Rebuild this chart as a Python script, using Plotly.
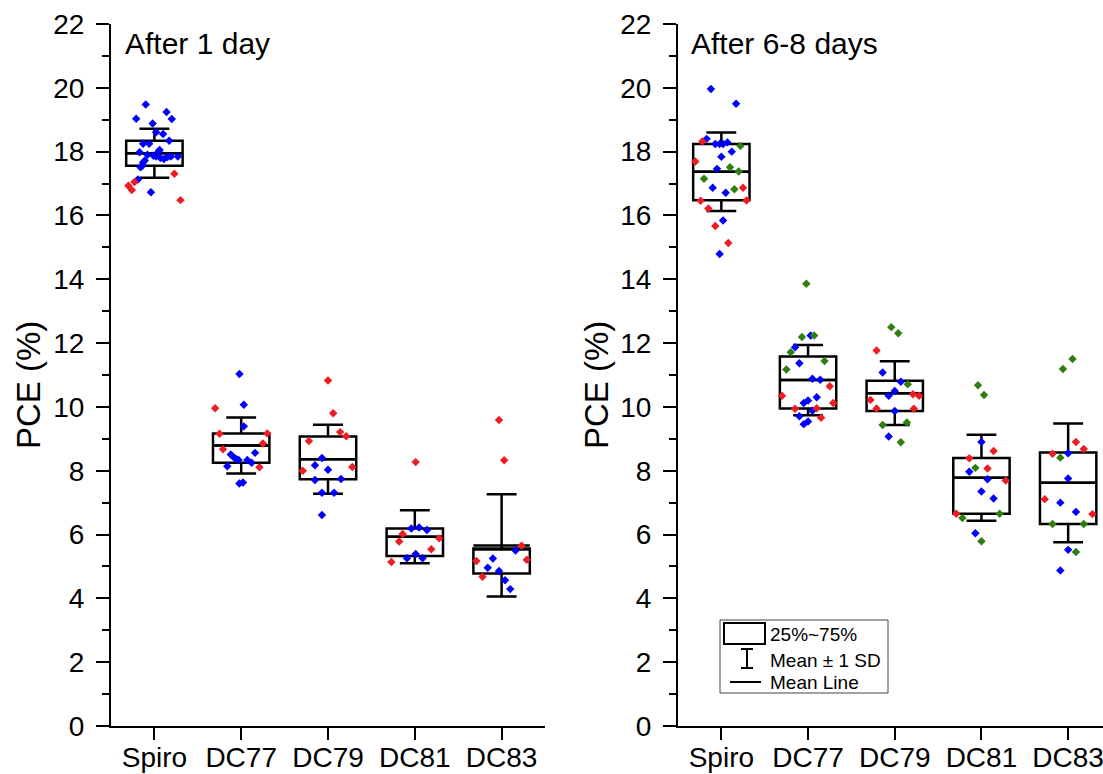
import plotly.graph_objects as go

W, H = 1103, 774

categories = ["Spiro", "DC77", "DC79", "DC81", "DC83"]
cat_pos = [1, 2, 3, 4, 5]

# ---------------- After 1 day ----------------
d1_blue_cat = ["Spiro"] * 27 + ["DC77"] * 13 + ["DC79"] * 8 + ["DC81"] * 6 + ["DC83"] * 6
d1_blue_pce = [19.48, 19.24, 19.03, 19.02, 18.88, 18.61, 18.55, 18.34, 18.25, 18.25, 18.05, 17.98, 17.90,
               17.85, 17.77, 17.85, 17.85, 17.72, 17.56, 17.13, 16.73, 18.01, 17.87, 17.80, 17.83, 17.66, 17.51,
               11.03, 10.07, 9.39, 8.56, 8.51, 8.41, 8.34, 8.34, 8.25, 8.14, 7.60, 7.63, 8.37,
               8.40, 8.17, 8.03, 7.71, 7.74, 7.31, 7.31, 6.61,
               6.19, 6.22, 6.14, 5.39, 5.26, 5.26,
               5.50, 5.25, 4.96, 4.86, 4.57, 4.29]
d1_blue_jitter = [-0.10, 0.14, -0.21, 0.20, -0.02, 0.02, 0.10, 0.17, -0.13, -0.06, 0.06, -0.17, -0.08,
                  0.02, 0.11, 0.19, 0.27, -0.11, -0.14, -0.19, -0.04, 0.05, -0.01, 0.07, 0.15, -0.13, -0.16,
                  -0.02, 0.03, 0.03, 0.16, -0.12, -0.08, -0.03, 0.07, 0.12, -0.16, -0.02, 0.02, -0.06,
                  -0.07, -0.15, 0.0, -0.15, 0.15, -0.07, 0.07, -0.07,
                  -0.04, 0.05, 0.14, 0.01, -0.09, 0.09,
                  0.16, -0.10, -0.16, -0.03, 0.04, 0.10]

d1_red_cat = ["Spiro"] * 5 + ["DC77"] * 6 + ["DC79"] * 7 + ["DC81"] * 6 + ["DC83"] * 6
d1_red_pce = [17.31, 17.05, 16.93, 16.80, 16.48,
              9.96, 9.16, 9.17, 8.85, 8.67, 8.11,
              10.83, 9.80, 9.21, 9.08, 8.93, 8.00, 8.12,
              8.27, 6.02, 5.78, 5.88, 5.54, 5.14,
              9.59, 8.33, 5.65, 5.21, 5.17, 4.68]
d1_red_jitter = [0.23, -0.23, -0.30, -0.26, 0.30,
                 -0.30, -0.25, 0.30, 0.25, -0.21, 0.21,
                 0.0, 0.06, 0.14, 0.21, -0.22, -0.29, 0.28,
                 0.01, -0.14, -0.18, 0.28, 0.19, -0.27,
                 -0.03, 0.03, 0.23, 0.29, -0.29, -0.22]

d1_q1 = [17.56, 8.25, 7.73, 5.33, 4.78]
d1_q3 = [18.34, 9.17, 9.07, 6.19, 5.56]
d1_mean = [17.95, 8.79, 8.36, 5.93, 5.66]
d1_sd = [0.77, 0.88, 1.08, 0.83, 1.60]

# ---------------- After 6-8 days ----------------
d6_blue_cat = ["Spiro"] * 14 + ["DC77"] * 12 + ["DC79"] * 6 + ["DC81"] * 6 + ["DC83"] * 6
d6_blue_pce = [19.96, 19.50, 18.40, 18.24, 18.24, 18.24, 18.29, 18.00, 17.84, 17.46, 16.87, 16.71, 15.84, 14.79,
               12.24, 11.87, 11.37, 10.88, 10.85, 10.30, 10.20, 10.12, 9.88, 9.71, 9.54, 9.46,
               11.08, 10.79, 10.50, 10.35, 9.87, 9.07,
               8.90, 7.97, 7.73, 7.35, 7.13, 6.04,
               8.55, 7.76, 7.00, 6.71, 5.52, 4.87]
d6_blue_jitter = [-0.12, 0.17, -0.17, -0.07, -0.02, 0.02, 0.07, 0.12, 0.0, -0.05, -0.10, 0.05, 0.02, -0.02,
                  0.03, -0.15, -0.10, 0.05, 0.14, 0.10, 0.0, -0.05, 0.05, -0.10, 0.0, -0.05,
                  -0.14, 0.07, 0.0, -0.07, 0.0, -0.07,
                  0.0, -0.14, 0.07, 0.0, 0.14, -0.07,
                  0.0, 0.0, -0.09, 0.09, 0.0, -0.09]

d6_red_cat = ["Spiro"] * 8 + ["DC77"] * 6 + ["DC79"] * 6 + ["DC81"] * 5 + ["DC83"] * 5
d6_red_pce = [18.32, 17.69, 16.87, 16.46, 16.47, 16.22, 15.67, 15.14,
              10.65, 10.35, 10.12, 9.94, 9.96, 9.66,
              11.77, 10.22, 10.40, 10.35, 9.95, 9.94,
              8.62, 8.39, 8.07, 7.69, 6.65,
              8.90, 8.68, 8.53, 7.11, 6.64]
d6_red_jitter = [-0.22, -0.30, 0.25, -0.24, 0.29, -0.15, -0.07, 0.08,
                 0.25, -0.30, 0.29, -0.15, 0.10, 0.15,
                 -0.21, -0.28, 0.21, 0.28, -0.21, 0.22,
                 0.14, -0.14, 0.07, 0.28, -0.29,
                 0.09, 0.18, -0.18, -0.27, 0.28]

d6_green_cat = ["Spiro"] * 5 + ["DC77"] * 6 + ["DC79"] * 6 + ["DC81"] * 6 + ["DC83"] * 6
d6_green_pce = [18.18, 17.51, 17.38, 17.15, 16.82,
                13.86, 12.19, 12.24, 11.71, 11.44, 11.17,
                12.50, 12.31, 10.71, 9.43, 9.51, 8.89,
                10.68, 10.37, 8.09, 6.65, 6.52, 5.79,
                11.19, 11.50, 8.41, 6.33, 6.33, 5.45]
d6_green_jitter = [0.22, 0.10, 0.20, -0.20, 0.15,
                   -0.02, -0.07, 0.07, -0.20, 0.19, -0.25,
                   -0.04, 0.04, 0.15, -0.14, 0.14, 0.07,
                   -0.04, 0.03, -0.07, 0.21, -0.22, 0.0,
                   -0.06, 0.05, -0.09, -0.18, 0.18, 0.09]

d6_q1 = [16.48, 9.95, 9.87, 6.65, 6.33]
d6_q3 = [18.24, 11.58, 10.82, 8.40, 8.57]
d6_mean = [17.37, 10.84, 10.43, 7.78, 7.62]
d6_sd = [1.23, 1.10, 1.00, 1.35, 1.86]

panel_titles = ["After 1 day", "After 6-8 days"]
legend_labels = ["25%~75%", "Mean \u00b1 1 SD", "Mean Line"]

BLUE = "#0000FF"
RED = "#EE1D24"
GREEN = "#2F7F10"
FONT = "Liberation Sans, Arial, sans-serif"
BOX_W = 0.65


def px_x(p):
    return p / W


def px_y(p):
    return 1 - p / H


fig = go.Figure()


def add_box(xa, ya, q1, q3, mean, sd):
    med = [min(max(m, a), b) for m, a, b in zip(mean, q1, q3)]
    fig.add_trace(go.Box(
        x=cat_pos, q1=q1, q3=q3, median=med,
        lowerfence=[min(m - s, a) for m, s, a in zip(mean, sd, q1)],
        upperfence=[max(m + s, b) for m, s, b in zip(mean, sd, q3)],
        orientation="v", width=BOX_W, whiskerwidth=0.53,
        fillcolor="rgba(0,0,0,0)", line=dict(color="black", width=2.5),
        boxpoints=False, xaxis=xa, yaxis=ya, showlegend=False, hoverinfo="skip"))
    # mean line drawn across the full box width
    mx, my = [], []
    for p, m in zip(cat_pos, mean):
        mx += [p - BOX_W / 2, p + BOX_W / 2, None]
        my += [m, m, None]
    fig.add_trace(go.Scatter(x=mx, y=my, mode="lines", line=dict(color="black", width=2.5),
                             xaxis=xa, yaxis=ya, showlegend=False, hoverinfo="skip"))


def add_pts(xa, ya, cats, vals, jit, color):
    xs = [cat_pos[categories.index(c)] + j for c, j in zip(cats, jit)]
    fig.add_trace(go.Scatter(
        x=xs, y=vals, mode="markers",
        marker=dict(symbol="diamond", size=6.5, color=color, line=dict(width=0)),
        xaxis=xa, yaxis=ya, showlegend=False, hoverinfo="skip"))


add_box("x", "y", d1_q1, d1_q3, d1_mean, d1_sd)
add_pts("x", "y", d1_blue_cat, d1_blue_pce, d1_blue_jitter, BLUE)
add_pts("x", "y", d1_red_cat, d1_red_pce, d1_red_jitter, RED)

add_box("x2", "y2", d6_q1, d6_q3, d6_mean, d6_sd)
add_pts("x2", "y2", d6_blue_cat, d6_blue_pce, d6_blue_jitter, BLUE)
add_pts("x2", "y2", d6_red_cat, d6_red_pce, d6_red_jitter, RED)
add_pts("x2", "y2", d6_green_cat, d6_green_pce, d6_green_jitter, GREEN)

ydom = [px_y(726), px_y(24)]
left_dom = [px_x(111), px_x(545)]
right_dom = [px_x(678), 1.0]
right_max = 0.5 + (W - 678) / 86.7

xcommon = dict(tickmode="array", tickvals=cat_pos, ticktext=categories,
               showline=True, linecolor="black", linewidth=2,
               ticks="outside", ticklen=12, tickwidth=2, tickcolor="black",
               tickfont=dict(family=FONT, size=28, color="black"), ticklabelstandoff=-7,
               ticklabeloverflow="allow",
               showgrid=False, zeroline=False, fixedrange=True, automargin=False)
ycommon = dict(range=[0, 22], tickmode="linear", tick0=0, dtick=2,
               showline=True, linecolor="black", linewidth=2,
               ticks="outside", ticklen=13, tickwidth=2, tickcolor="black",
               minor=dict(ticks="outside", ticklen=7, tickwidth=2, tickcolor="black", dtick=1, tick0=0),
               tickfont=dict(family=FONT, size=28, color="black"), ticklabelstandoff=6,
               showgrid=False, zeroline=False, fixedrange=True, automargin=False)

fig.update_layout(
    width=W, height=H,
    margin=dict(l=0, r=0, t=0, b=0, pad=0),
    paper_bgcolor="white", plot_bgcolor="white",
    xaxis=dict(domain=left_dom, range=[0.5, 5.5], anchor="y", **xcommon),
    yaxis=dict(domain=ydom, anchor="x", **ycommon),
    xaxis2=dict(domain=right_dom, range=[0.5, right_max], anchor="y2", **xcommon),
    yaxis2=dict(domain=ydom, anchor="x2", **ycommon),
    showlegend=False,
)

annotations = []
for xc in [29, 597]:
    annotations.append(dict(x=px_x(xc), y=px_y(385), xref="paper", yref="paper",
                            text="PCE (%)", textangle=-90, showarrow=False,
                            font=dict(family=FONT, size=33, color="black"),
                            xanchor="center", yanchor="middle"))
for xl, t in zip([123, 689], panel_titles):
    annotations.append(dict(x=px_x(xl), y=px_y(44), xref="paper", yref="paper",
                            text=t, showarrow=False,
                            font=dict(family=FONT, size=30, color="black"),
                            xanchor="left", yanchor="middle"))
for yl, t in zip([634, 660, 682], legend_labels):
    annotations.append(dict(x=px_x(768), y=px_y(yl), xref="paper", yref="paper",
                            text=t, showarrow=False,
                            font=dict(family=FONT, size=19, color="black"),
                            xanchor="left", yanchor="middle"))

shapes = [
    dict(type="rect", xref="paper", yref="paper", x0=px_x(720), x1=px_x(888), y0=px_y(693), y1=px_y(620),
         line=dict(color="#444444", width=1)),
    dict(type="rect", xref="paper", yref="paper", x0=px_x(724), x1=px_x(765), y0=px_y(644), y1=px_y(623),
         line=dict(color="black", width=2)),
    dict(type="line", xref="paper", yref="paper", x0=px_x(747), x1=px_x(747), y0=px_y(668), y1=px_y(649),
         line=dict(color="black", width=2)),
    dict(type="line", xref="paper", yref="paper", x0=px_x(741), x1=px_x(753), y0=px_y(649), y1=px_y(649),
         line=dict(color="black", width=2)),
    dict(type="line", xref="paper", yref="paper", x0=px_x(741), x1=px_x(753), y0=px_y(668), y1=px_y(668),
         line=dict(color="black", width=2)),
    dict(type="line", xref="paper", yref="paper", x0=px_x(730), x1=px_x(761), y0=px_y(682), y1=px_y(682),
         line=dict(color="black", width=2)),
]

fig.update_layout(annotations=annotations, shapes=shapes)
fig.write_html("out.html")
